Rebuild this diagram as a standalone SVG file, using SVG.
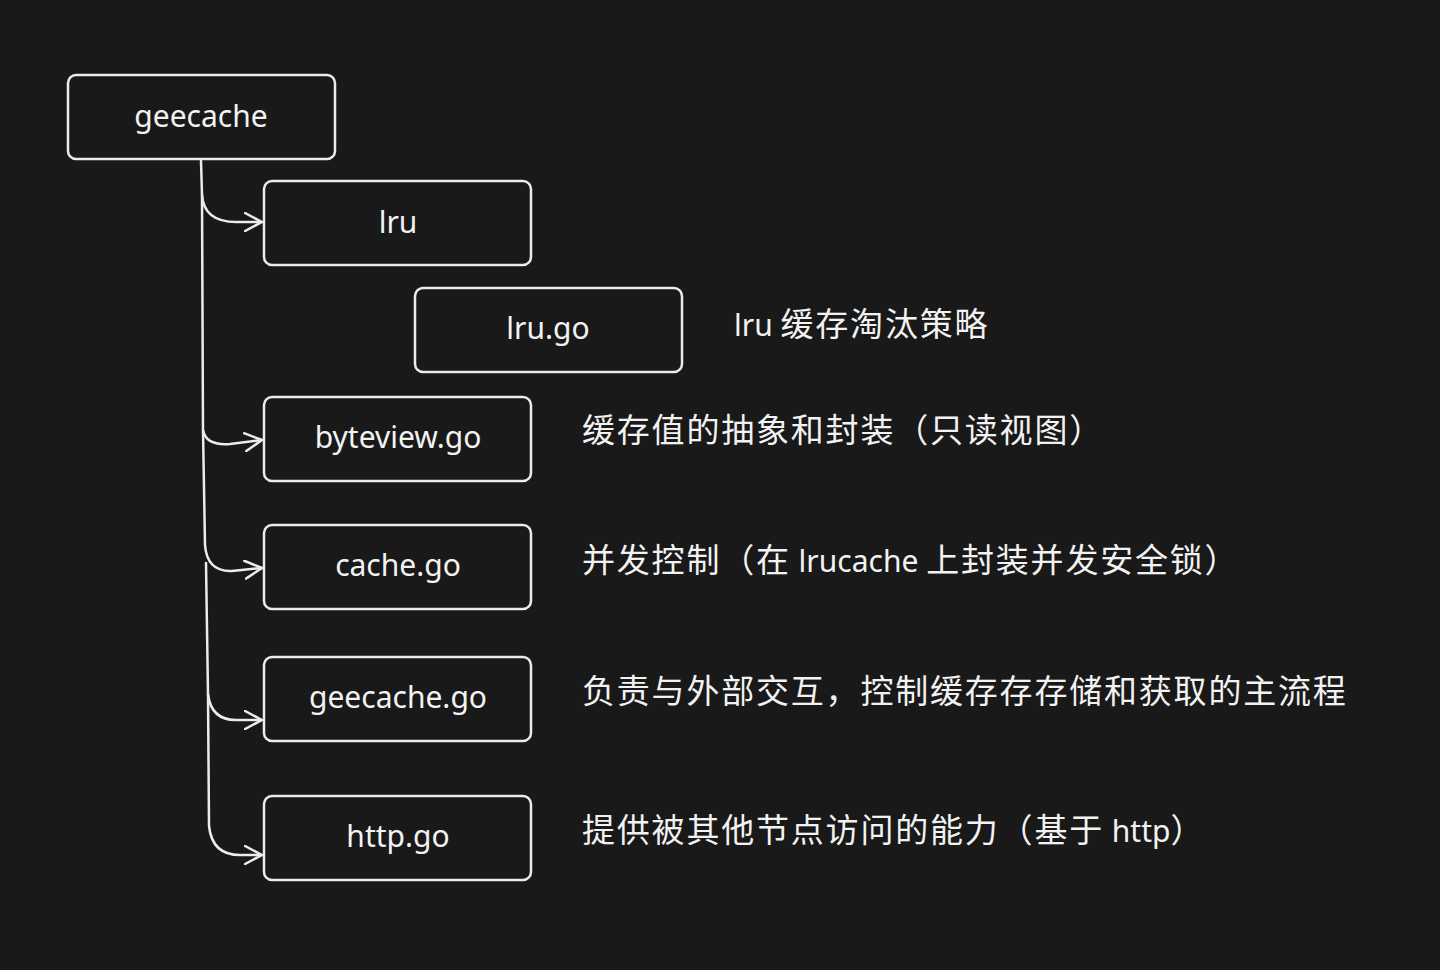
<svg xmlns="http://www.w3.org/2000/svg" width="1440" height="970" viewBox="0 0 1440 970">
<defs>
<style>
.box{fill:none;stroke:#ececec;stroke-width:2.5}
.bt{font-family:"Noto Sans","Noto Sans CJK SC",sans-serif;font-size:30px;fill:#f2f2f2;text-anchor:middle}
.lb{font-family:"Noto Sans","Noto Sans CJK SC",sans-serif;font-size:33px;letter-spacing:1.8px;fill:#f2f2f2}
.lt{font-size:30px;letter-spacing:0}
.cn{fill:none;stroke:#ececec;stroke-width:2.5;stroke-linecap:round;stroke-linejoin:round}
</style>
<marker id="ah" viewBox="0 0 20 20" refX="18" refY="10" markerWidth="20" markerHeight="20" markerUnits="userSpaceOnUse" orient="auto">
<path d="M1,1 L18,10 L1,19" fill="none" stroke="#ececec" stroke-width="2.5" stroke-linecap="round" stroke-linejoin="round"/>
</marker>
</defs>
<rect width="1440" height="970" fill="#191919"/>
<g id="connectors">
<path class="cn" d="M201,161 L202,195 Q204,222 236,222 L262,222" marker-end="url(#ah)"/>
<path class="cn" d="M202,195 L203,430 Q206,446 230,444 L262,440" marker-end="url(#ah)"/>
<path class="cn" d="M203,430 L205,545 Q207,572 232,571 L262,568" marker-end="url(#ah)"/>
<path class="cn" d="M206,563 L208,694 Q211,720 236,720 L262,720" marker-end="url(#ah)"/>
<path class="cn" d="M208,694 L209,826 Q212,855 240,855 L262,855" marker-end="url(#ah)"/>
</g>
<g id="n-geecache"><rect class="box" x="68" y="75" width="267" height="84" rx="8"/><text class="bt" x="201" y="127">geecache</text></g>
<g id="n-lru"><rect class="box" x="264" y="181" width="267" height="84" rx="8"/><text class="bt" x="398" y="233">lru</text></g>
<g id="n-lrugo"><rect class="box" x="415" y="288" width="267" height="84" rx="8"/><text class="bt" x="548" y="339">lru.go</text><text class="lb" x="734" y="336"><tspan class="lt">lru </tspan>缓存淘汰策略</text></g>
<g id="n-byteview"><rect class="box" x="264" y="397" width="267" height="84" rx="8"/><text class="bt" x="398" y="448">byteview.go</text><text class="lb" x="582" y="442">缓存值的抽象和封装（只读视图）</text></g>
<g id="n-cache"><rect class="box" x="264" y="525" width="267" height="84" rx="8"/><text class="bt" x="398" y="576">cache.go</text><text class="lb" x="582" y="572">并发控制（在<tspan class="lt"> lrucache </tspan>上封装并发安全锁）</text></g>
<g id="n-geecachego"><rect class="box" x="264" y="657" width="267" height="84" rx="8"/><text class="bt" x="398" y="708">geecache.go</text><text class="lb" x="582" y="703">负责与外部交互，控制缓存存存储和获取的主流程</text></g>
<g id="n-http"><rect class="box" x="264" y="796" width="267" height="84" rx="8"/><text class="bt" x="398" y="847">http.go</text><text class="lb" x="582" y="842">提供被其他节点访问的能力（基于<tspan class="lt"> http</tspan>）</text></g>
</svg>
